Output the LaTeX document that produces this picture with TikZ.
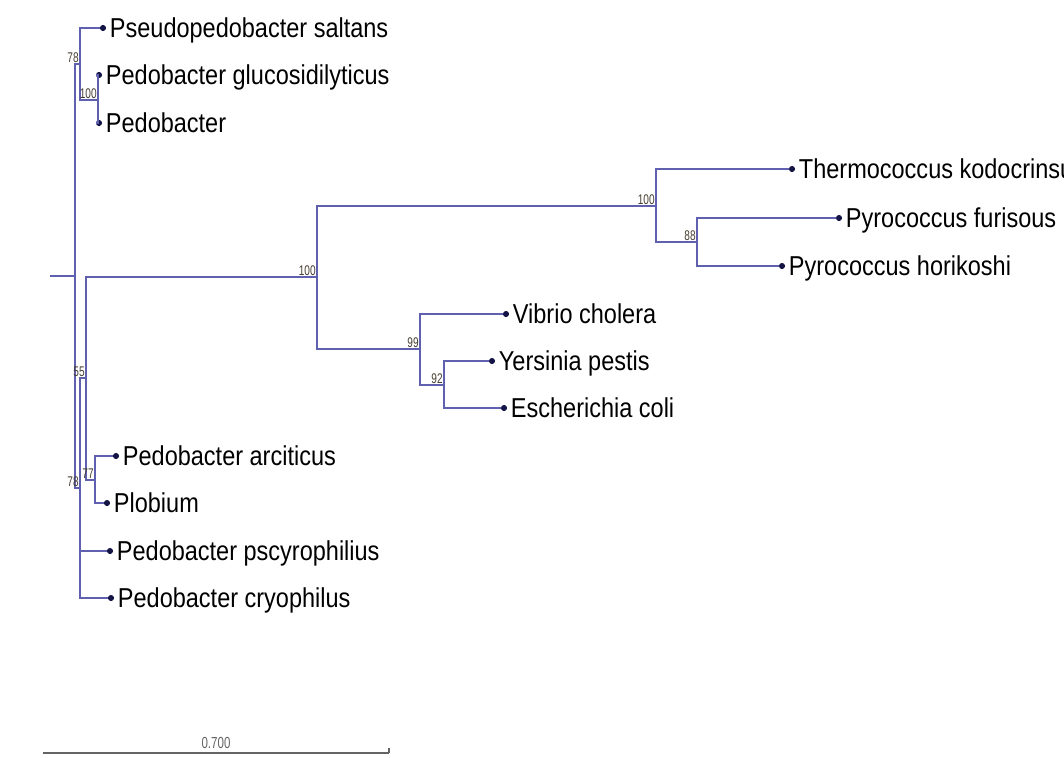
\documentclass[tikz,border=0pt]{standalone}
\usepackage{fontspec}
\setmainfont{Liberation Sans}
\newfontfamily\leaffont[FakeStretch=0.86]{Liberation Sans}
\newfontfamily\bootfont[FakeStretch=0.72]{Liberation Sans}
\usetikzlibrary{positioning,calc}
\definecolor{branchblue}{RGB}{96,96,176}
\definecolor{dotnavy}{RGB}{20,20,70}
\definecolor{bootbrown}{RGB}{70,62,48}
\definecolor{scalegray}{RGB}{100,100,100}

\begin{document}
\begin{tikzpicture}[
        x=0.75pt, y=-0.75pt,
        branch/.style={draw=branchblue, line width=1.1pt},
        leafdot/.style={circle, fill=dotnavy, inner sep=0pt, minimum size=4.6pt},
        leaf/.style={font=\leaffont\fontsize{20.5}{24}\selectfont, text depth=0pt, inner sep=0pt, anchor=west},
        boot/.style={font=\bootfont\fontsize{10.5}{11}\selectfont, text=bootbrown, inner sep=0.8pt, anchor=south east},
        scalebar/.style={draw=scalegray, line width=1.4pt},
        scalelabel/.style={font=\bootfont\fontsize{12}{13}\selectfont, text=scalegray, inner sep=1pt}
    ]
    \useasboundingbox (0,0) rectangle (1064,757);

    % --- Internal Nodes ---
    \coordinate (root_in) at (50, 276);
    \coordinate (root) at (75, 276);
    \coordinate (n78_top) at (80, 64);
    \coordinate (n100_pedo) at (98, 100);
    \coordinate (n78_low) at (80, 488);
    \coordinate (n55) at (86, 378);
    \coordinate (n100_main) at (317, 277);
    \coordinate (n100_arch) at (656, 206);
    \coordinate (n88) at (697, 242);
    \coordinate (n99) at (420, 349);
    \coordinate (n92) at (444, 385);
    \coordinate (n77) at (95, 480);

    % --- Leaf Nodes ---
    \node[leafdot] (saltans) at (103, 28) {};
    \node[leafdot] (gluco) at (99, 75) {};
    \node[leafdot] (pedo) at (99, 123) {};
    \node[leafdot] (thermo) at (792, 169) {};
    \node[leafdot] (furisous) at (839, 218) {};
    \node[leafdot] (horikoshi) at (782, 266) {};
    \node[leafdot] (vibrio) at (506, 314) {};
    \node[leafdot] (yersinia) at (492, 361) {};
    \node[leafdot] (ecoli) at (504, 408) {};
    \node[leafdot] (arcticus) at (116, 456) {};
    \node[leafdot] (plobium) at (107, 503) {};
    \node[leafdot] (pscyro) at (110, 551) {};
    \node[leafdot] (cryo) at (111, 598) {};

    \node[leaf, right=2.5pt of saltans] (saltans_t) {Pseudopedobacter saltans};
    \node[leaf, right=2.5pt of gluco] (gluco_t) {Pedobacter glucosidilyticus};
    \node[leaf, right=2.5pt of pedo] (pedo_t) {Pedobacter};
    \node[leaf, right=2.5pt of thermo] (thermo_t) {Thermococcus kodocrinsu};
    \node[leaf, right=2.5pt of furisous] (furisous_t) {Pyrococcus furisous};
    \node[leaf, right=2.5pt of horikoshi] (horikoshi_t) {Pyrococcus horikoshi};
    \node[leaf, right=2.5pt of vibrio] (vibrio_t) {Vibrio cholera};
    \node[leaf, right=2.5pt of yersinia] (yersinia_t) {Yersinia pestis};
    \node[leaf, right=2.5pt of ecoli] (ecoli_t) {Escherichia coli};
    \node[leaf, right=2.5pt of arcticus] (arcticus_t) {Pedobacter arciticus};
    \node[leaf, right=2.5pt of plobium] (plobium_t) {Plobium};
    \node[leaf, right=2.5pt of pscyro] (pscyro_t) {Pedobacter pscyrophilius};
    \node[leaf, right=2.5pt of cryo] (cryo_t) {Pedobacter cryophilus};

    % --- Branches ---
    \draw[branch] (root_in) -- (root);
    \draw[branch] (root) |- (n78_top);
    \draw[branch] (root) |- (n78_low);

    \draw[branch] (n78_top) |- (saltans);
    \draw[branch] (n78_top) |- (n100_pedo);
    \draw[branch] (n100_pedo) |- (gluco);
    \draw[branch] (n100_pedo) |- (pedo);

    \draw[branch] (n78_low) |- (n55);
    \draw[branch] (n78_low) |- (pscyro);
    \draw[branch] (n78_low) |- (cryo);

    \draw[branch] (n55) |- (n100_main);
    \draw[branch] (n55) |- (n77);
    \draw[branch] (n77) |- (arcticus);
    \draw[branch] (n77) |- (plobium);

    \draw[branch] (n100_main) |- (n100_arch);
    \draw[branch] (n100_main) |- (n99);
    \draw[branch] (n100_arch) |- (thermo);
    \draw[branch] (n100_arch) |- (n88);
    \draw[branch] (n88) |- (furisous);
    \draw[branch] (n88) |- (horikoshi);

    \draw[branch] (n99) |- (vibrio);
    \draw[branch] (n99) |- (n92);
    \draw[branch] (n92) |- (yersinia);
    \draw[branch] (n92) |- (ecoli);

    % --- Bootstrap Values ---
    \node[boot] (b78_top) at (n78_top) {78};
    \node[boot] (b100_pedo) at (n100_pedo) {100};
    \node[boot] (b78_low) at (n78_low) {78};
    \node[boot] (b55) at (n55) {55};
    \node[boot] (b77) at (n77) {77};
    \node[boot] (b100_main) at (n100_main) {100};
    \node[boot] (b100_arch) at (n100_arch) {100};
    \node[boot] (b88) at (n88) {88};
    \node[boot] (b99) at (n99) {99};
    \node[boot] (b92) at (n92) {92};

    % --- Scale Bar ---
    \coordinate (bar_l) at (43, 753);
    \coordinate (bar_r) at (389, 753);
    \draw[scalebar] (bar_l) -- (bar_r);
    \draw[scalebar] (bar_r) -- ++(0, -5);
    \node[scalelabel, above=2pt] (bar_t) at ($(bar_l)!0.5!(bar_r)$) {0.700};

\end{tikzpicture}
\end{document}
